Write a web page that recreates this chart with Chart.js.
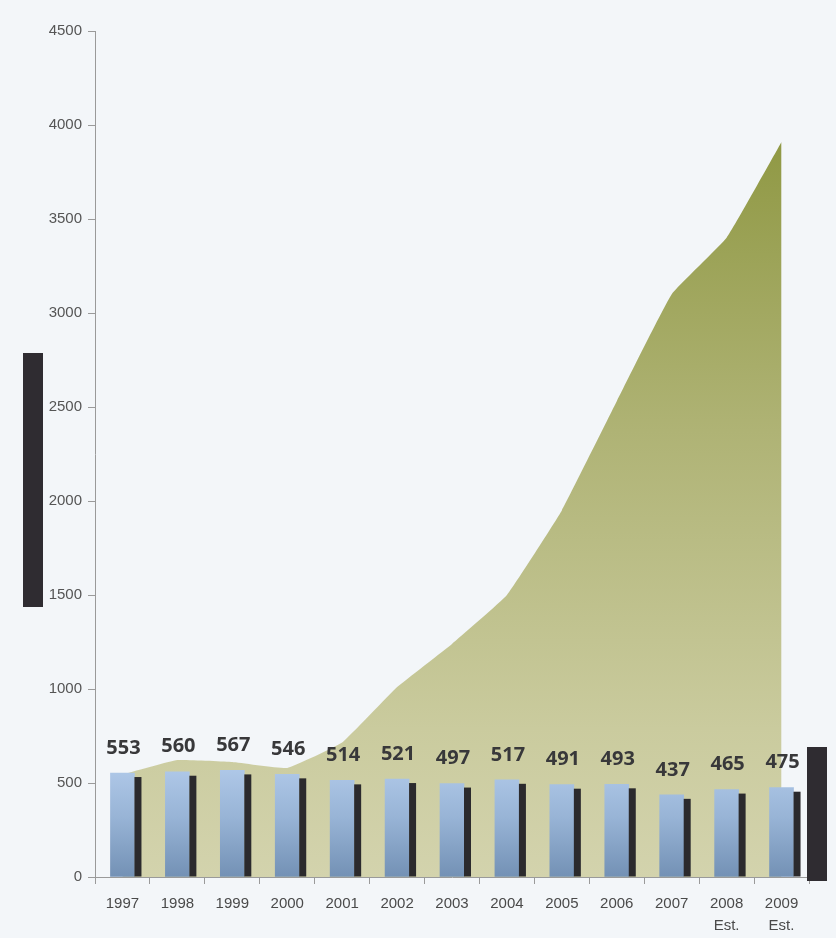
<!DOCTYPE html>
<html lang="en">
<head>
  <meta charset="UTF-8">
  <title>Chart</title>
  <script src="https://cdn.jsdelivr.net/npm/chart.js"></script>
  <style>
    body {
      margin: 0;
      background: #f3f6f9;
    }
    #wrap {
      position: relative;
      width: 836px;
      height: 938px;
    }
    .blk {
      position: absolute;
      background: #2f2c31;
    }
  </style>
</head>
<body>
  <div id="wrap">
    <canvas id="grafico" width="836" height="938"></canvas>
    <!-- decorative dark blocks -->
    <div class="blk" style="left:23px;top:353px;width:20px;height:254px"></div>
    <div class="blk" style="left:807px;top:747px;width:20px;height:134px"></div>
  </div>

  <script>
    // data
    const anos = ['1997', '1998', '1999', '2000', '2001', '2002', '2003', '2004', '2005', '2006', '2007', ['2008', 'Est.'], ['2009', 'Est.']];
    const valoresBarras = [553, 560, 567, 546, 514, 521, 497, 517, 491, 493, 437, 465, 475];
    const valoresArea = [545, 622, 612, 580, 715, 1010, 1240, 1500, 1950, 2530, 3100, 3400, 3910];
    const yMin = 0;
    const yMax = 4500;
    const yStep = 500;

    // dark drop shadow on the right of each bar + value labels
    const extrasBarras = {
      id: 'extrasBarras',
      afterDatasetDraw(chart, args) {
        if (args.index !== 0) return;
        const ctx = chart.ctx;
        const meta = chart.getDatasetMeta(0);
        ctx.save();
        meta.data.forEach((bar, i) => {
          const p = bar.getProps(['x', 'y', 'width', 'base'], true);
          ctx.fillStyle = '#2b2a2d';
          ctx.fillRect(p.x + p.width / 2, p.y + 4, 7, p.base - p.y - 4);
          ctx.fillStyle = '#38383a';
          ctx.font = 'bold 20px "Open Sans", sans-serif';
          ctx.textAlign = 'center';
          ctx.textBaseline = 'middle';
          ctx.fillText(String(valoresBarras[i]), p.x + 1, p.y - 25);
        });
        ctx.restore();
      }
    };

    function gradBarra(c) {
      const chart = c.chart;
      if (!chart.chartArea) return '#9ab5d6';
      const y = chart.scales.y;
      const g = chart.ctx.createLinearGradient(0, y.getPixelForValue(580), 0, y.getPixelForValue(0));
      g.addColorStop(0, '#afc8e8');
      g.addColorStop(0.45, '#98b4d6');
      g.addColorStop(1, '#7391b5');
      return g;
    }

    function gradArea(c) {
      const chart = c.chart;
      const a = chart.chartArea;
      if (!a) return '#c0c28c';
      const y = chart.scales.y;
      const g = chart.ctx.createLinearGradient(0, y.getPixelForValue(3950), 0, a.bottom);
      g.addColorStop(0, '#8f9843');
      g.addColorStop(0.4, '#afb375');
      g.addColorStop(0.8, '#cacb9e');
      g.addColorStop(1, '#d3d3ad');
      return g;
    }

    new Chart(document.getElementById('grafico'), {
      type: 'bar',
      data: {
        labels: anos,
        datasets: [
          {
            type: 'bar',
            data: valoresBarras,
            backgroundColor: gradBarra,
            barThickness: 24,
            order: 1
          },
          {
            type: 'line',
            data: valoresArea,
            fill: 'origin',
            backgroundColor: gradArea,
            borderWidth: 0,
            pointRadius: 0,
            tension: 0.1,
            order: 2
          }
        ]
      },
      options: {
        responsive: false,
        animation: false,
        layout: { padding: { top: 31, right: 27, left: 0, bottom: 0 } },
        plugins: {
          legend: { display: false },
          tooltip: { enabled: false }
        },
        scales: {
          x: {
            afterFit(s) { s.height = 61; },
            border: { color: '#9a9a9a', width: 1 },
            grid: { drawOnChartArea: false, tickLength: 7, color: '#9a9a9a' },
            ticks: {
              color: '#4a4a4a',
              font: { family: '"Liberation Sans", Arial, sans-serif', size: 15, lineHeight: 1.45 },
              padding: 9,
              maxRotation: 0
            }
          },
          y: {
            min: yMin,
            max: yMax,
            afterFit(s) { s.width = 95; },
            border: { color: '#9a9a9a', width: 1 },
            grid: { drawOnChartArea: false, tickLength: 7, color: '#9a9a9a' },
            ticks: {
              stepSize: yStep,
              color: '#555',
              font: { family: '"Liberation Sans", Arial, sans-serif', size: 15 },
              padding: 6,
              callback: v => String(v)
            }
          }
        }
      },
      plugins: [extrasBarras]
    });
  </script>
</body>
</html>
